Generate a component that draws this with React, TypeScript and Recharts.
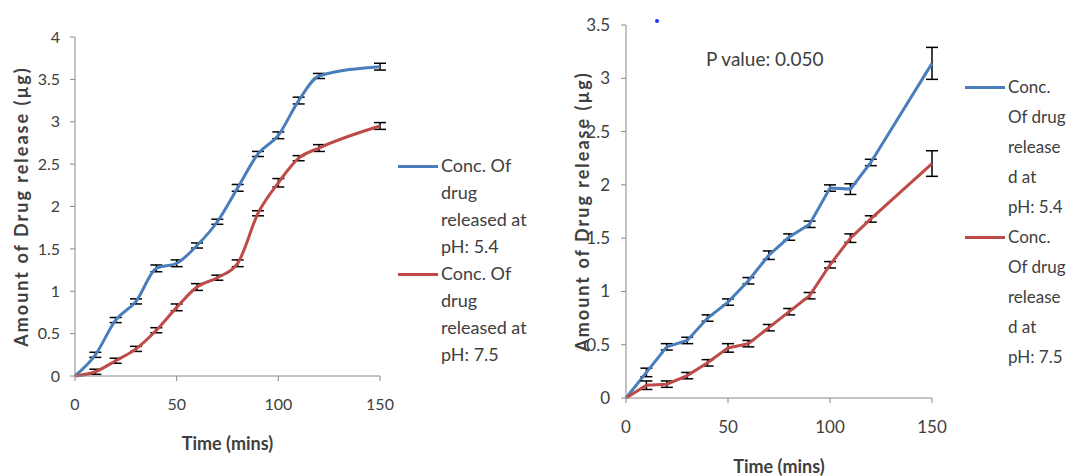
import React from "react";
import { ErrorBar, Line, LineChart, XAxis, YAxis } from "recharts";

const times = [0, 10, 20, 30, 40, 50, 60, 70, 80, 90, 100, 110, 120, 150];

// left panel
const leftPh54 = [0, 0.25, 0.66, 0.88, 1.27, 1.33, 1.54, 1.82, 2.22, 2.62, 2.84, 3.25, 3.54, 3.65];
const leftPh54Err = [0, 0.03, 0.03, 0.03, 0.04, 0.04, 0.03, 0.03, 0.04, 0.03, 0.04, 0.04, 0.03, 0.04];
const leftPh75 = [0, 0.05, 0.18, 0.32, 0.54, 0.81, 1.05, 1.16, 1.33, 1.92, 2.28, 2.57, 2.69, 2.95];
const leftPh75Err = [0, 0.03, 0.03, 0.03, 0.03, 0.04, 0.04, 0.03, 0.04, 0.03, 0.05, 0.03, 0.04, 0.04];

// right panel
const rightPh54 = [0, 0.24, 0.48, 0.54, 0.75, 0.9, 1.1, 1.34, 1.51, 1.63, 1.97, 1.96, 2.21, 3.14];
const rightPh54Err = [0, 0.04, 0.03, 0.03, 0.03, 0.03, 0.03, 0.04, 0.03, 0.03, 0.03, 0.05, 0.03, 0.15];
const rightPh75 = [0, 0.12, 0.13, 0.21, 0.33, 0.47, 0.51, 0.66, 0.81, 0.96, 1.25, 1.5, 1.68, 2.2];
const rightPh75Err = [0, 0.04, 0.03, 0.03, 0.03, 0.04, 0.03, 0.03, 0.03, 0.03, 0.03, 0.04, 0.03, 0.12];

const xTicks = [0, 50, 100, 150];
const leftYTicks = [0, 0.5, 1, 1.5, 2, 2.5, 3, 3.5, 4];
const rightYTicks = [0, 0.5, 1, 1.5, 2, 2.5, 3, 3.5];

const leftLegend54 = ["Conc. Of", "drug", "released at", "pH: 5.4"];
const leftLegend75 = ["Conc. Of", "drug", "released at", "pH: 7.5"];
const rightLegend54 = ["Conc.", "Of drug", "release", "d at", "pH: 5.4"];
const rightLegend75 = ["Conc.", "Of drug", "release", "d at", "pH: 7.5"];

const BLUE = "#4a7ebb";
const RED = "#be4b48";
const FONT = "Lato, 'Open Sans', sans-serif";

const leftData = times.map((t, i) => ({
  t,
  a: leftPh54[i],
  aErr: leftPh54Err[i],
  b: leftPh75[i],
  bErr: leftPh75Err[i],
}));

const rightData = times.map((t, i) => ({
  t,
  a: rightPh54[i],
  aErr: rightPh54Err[i],
  b: rightPh75[i],
  bErr: rightPh75Err[i],
}));

function LegendBox({
  first,
  second,
  lineH,
  left,
  top,
  fontSize,
}: {
  first: string[];
  second: string[];
  lineH: number;
  left: number;
  top: number;
  fontSize: number;
}) {
  const entry = (lines: string[], color: string) => (
    <div style={{ display: "flex", alignItems: "flex-start" }}>
      <div
        style={{
          width: 40,
          height: 3,
          background: color,
          marginTop: lineH / 2 - 1,
          marginRight: 3,
        }}
      />
      <div style={{ lineHeight: `${lineH}px` }}>
        {lines.map((l, i) => (
          <div key={i}>{l}</div>
        ))}
      </div>
    </div>
  );
  return (
    <div
      style={{
        position: "absolute",
        left,
        top,
        fontFamily: FONT,
        fontSize,
        color: "#404040",
        whiteSpace: "nowrap",
      }}
    >
      {entry(first, BLUE)}
      {entry(second, RED)}
    </div>
  );
}

const tickLeft = { fontSize: 16, fill: "#404040", fontFamily: FONT };
const tickRight = { fontSize: 17, fill: "#404040", fontFamily: FONT };
const labelStyle = {
  fontSize: 18,
  fontWeight: 700,
  fill: "#404040",
  fontFamily: FONT,
};
const yLabelStyle = { ...labelStyle, letterSpacing: 2 };

export default function App() {
  return (
    <div
      style={{
        position: "absolute",
        left: 0,
        top: 0,
        width: 1067,
        height: 476,
        background: "#fff",
        overflow: "hidden",
      }}
    >
      <div style={{ position: "absolute", left: 0, top: 0 }}>
        <LineChart
          width={560}
          height={476}
          data={leftData}
          margin={{ top: 37, right: 180, left: 0, bottom: 40 }}
        >
          <XAxis
            dataKey="t"
            type="number"
            domain={[0, 150]}
            ticks={xTicks}
            height={60}
            tick={tickLeft}
            tickSize={5}
            tickMargin={18}
            stroke="#888"
            label={{
              value: "Time (mins)",
              position: "insideBottom",
              offset: -14,
              style: labelStyle,
            }}
          />
          <YAxis
            type="number"
            domain={[0, 4]}
            ticks={leftYTicks}
            width={75}
            tick={tickLeft}
            tickSize={5}
            tickMargin={10}
            stroke="#888"
            label={{
              value: "Amount of Drug release (µg)",
              angle: -90,
              position: "insideLeft",
              offset: 22,
              textAnchor: "middle",
              style: yLabelStyle,
            }}
          />
          <Line
            type="monotone"
            dataKey="a"
            stroke={BLUE}
            strokeWidth={3}
            dot={false}
            isAnimationActive={false}
          >
            <ErrorBar dataKey="aErr" width={6} stroke="#000" strokeWidth={1.5} />
          </Line>
          <Line
            type="monotone"
            dataKey="b"
            stroke={RED}
            strokeWidth={3}
            dot={false}
            isAnimationActive={false}
          >
            <ErrorBar dataKey="bErr" width={6} stroke="#000" strokeWidth={1.5} />
          </Line>
        </LineChart>
      </div>

      <div style={{ position: "absolute", left: 550, top: 0 }}>
        <LineChart
          width={517}
          height={476}
          data={rightData}
          margin={{ top: 25, right: 135, left: 0, bottom: 28 }}
        >
          <XAxis
            dataKey="t"
            type="number"
            domain={[0, 150]}
            ticks={xTicks}
            height={50}
            tick={tickRight}
            tickSize={5}
            tickMargin={18}
            stroke="#888"
            label={{
              value: "Time (mins)",
              position: "insideBottom",
              offset: -25,
              style: labelStyle,
            }}
          />
          <YAxis
            type="number"
            domain={[0, 3.5]}
            ticks={rightYTicks}
            width={76}
            tick={tickRight}
            tickSize={5}
            tickMargin={11}
            stroke="#888"
            label={{
              value: "Amount of Drug release (µg)",
              angle: -90,
              position: "insideLeft",
              offset: 33,
              textAnchor: "middle",
              style: yLabelStyle,
            }}
          />
          <Line
            type="linear"
            dataKey="a"
            stroke={BLUE}
            strokeWidth={3}
            dot={false}
            isAnimationActive={false}
          >
            <ErrorBar dataKey="aErr" width={6} stroke="#000" strokeWidth={1.5} />
          </Line>
          <Line
            type="linear"
            dataKey="b"
            stroke={RED}
            strokeWidth={3}
            dot={false}
            isAnimationActive={false}
          >
            <ErrorBar dataKey="bErr" width={6} stroke="#000" strokeWidth={1.5} />
          </Line>
        </LineChart>
      </div>

      <LegendBox first={leftLegend54} second={leftLegend75} lineH={27} left={398} top={152} fontSize={18} />
      <LegendBox first={rightLegend54} second={rightLegend75} lineH={30} left={965} top={72} fontSize={17} />

      <div
        style={{
          position: "absolute",
          left: 706,
          top: 47,
          fontFamily: FONT,
          fontSize: 19,
          color: "#404040",
        }}
      >
        P value: 0.050
      </div>
      <div
        style={{
          position: "absolute",
          left: 655,
          top: 19,
          width: 4,
          height: 4,
          borderRadius: 2,
          background: "#2030ff",
        }}
      />
    </div>
  );
}
